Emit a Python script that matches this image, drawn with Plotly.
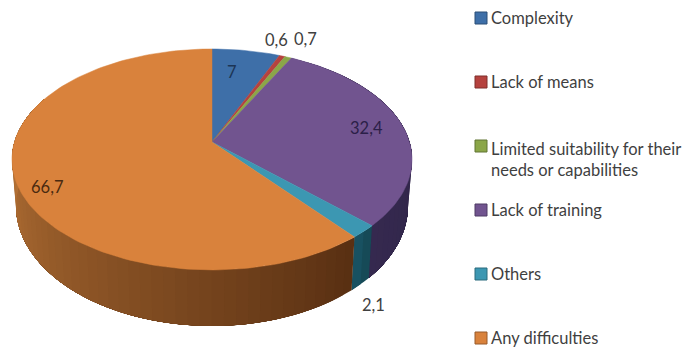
import math
import plotly.graph_objects as go

# ---- data ----
categories = ["Complexity", "Lack of means", "Limited suitability for their<br>needs or capabilities",
              "Lack of training", "Others", "Any difficulties"]
values = [7, 0.6, 0.7, 32.4, 2.1, 66.7]

# ---- styles ----
top_colors = ["#3E6FA8", "#B5423E", "#8BA648", "#71548F", "#3C97B2", "#D9823C"]
wall_left = {3: "#35294F", 4: "#1A5566", 5: "#C67E3C"}
wall_right = {3: "#2A2140", 4: "#144652", 5: "#582F12"}
label_pos = [(232, 72), (276, 40), (305, 39), (366, 128), (373, 305), (47, 187)]
label_col = ["#1C3555", "#404040", "#404040", "#2B2048", "#404040", "#4A2A10"]
FONT = "Lato"
TXT = "#3F3F3F"

# ---- perspective model of the disc (pixel space) ----
CX, TOP_Y, K = 212, 142, 0.158
A1, B1 = 197.5, 107.7
BOT_Y, A2, B2 = 187, 193.5, 117


def top_pt(deg):
    t = math.radians(deg)
    u, v = math.sin(t), -math.cos(t)
    w = 1 - K * v
    return CX + A1 * u / w, TOP_Y + B1 * v / w


def bot_pt(deg):
    t = math.radians(deg)
    u, v = math.sin(t), -math.cos(t)
    w = 1 - K * v
    return CX + A2 * u / w, BOT_Y + B2 * v / w


def hex_mix(a, b, f):
    ca = [int(a[i:i + 2], 16) for i in (1, 3, 5)]
    cb = [int(b[i:i + 2], 16) for i in (1, 3, 5)]
    return "#%02x%02x%02x" % tuple(round(x + (y - x) * f) for x, y in zip(ca, cb))


total = sum(values)
edges = [0.0]
for val in values:
    edges.append(edges[-1] + val / total * 360)

fig = go.Figure()


def poly(xs, ys, color, lw=0.0):
    fig.add_trace(go.Scatter(x=xs, y=ys, mode="lines", fill="toself", fillcolor=color,
                             line=dict(color=color, width=lw), hoverinfo="skip", showlegend=False))


# side walls, painted first; each strip runs under the next one so no seams show
for i in range(3, 6):
    start, stop = edges[i], min(edges[i + 1], 295)
    n = max(2, int((stop - start) / 3))
    for j in range(n):
        a0 = start + (stop - start) * j / n
        a1 = stop
        span = [a0 + (a1 - a0) * s / 60 for s in range(61)]
        tp = [top_pt(a) for a in span]
        bp = [bot_pt(a) for a in reversed(span)]
        # the light end of the wall is the far (left) one
        f = 1 - (j + 0.5) / n
        c = hex_mix(wall_left[i], wall_right[i], f)
        poly([p[0] for p in tp + bp], [p[1] for p in tp + bp], c, 0)

# top faces
for i, col in enumerate(top_colors):
    n = max(4, int((edges[i + 1] - edges[i]) / 1.5))
    arc = [top_pt(edges[i] + (edges[i + 1] - edges[i]) * s / n) for s in range(n + 1)]
    xs = [CX] + [p[0] for p in arc] + [CX]
    ys = [TOP_Y] + [p[1] for p in arc] + [TOP_Y]
    poly(xs, ys, col, 0.5)

# data labels
annotations = []
for val, (lx, ly), c in zip(values, label_pos, label_col):
    annotations.append(dict(x=lx, y=ly, xref="x", yref="y", showarrow=False,
                            text=f"{val:g}".replace(".", ","), font=dict(family=FONT, size=16.5, color=c)))

# legend
LEG_X, LEG_Y, LEG_STEP, SW = 475, 18, 64, 12
shapes = []
for i, (name, col) in enumerate(zip(categories, top_colors)):
    y = LEG_Y + i * LEG_STEP
    shapes.append(dict(type="rect", xref="x", yref="y", x0=LEG_X, x1=LEG_X + SW, y0=y - SW / 2, y1=y + SW / 2,
                       fillcolor=col, line=dict(color=hex_mix(col, "#000000", 0.3), width=1)))
    multi = "<br>" in name
    annotations.append(dict(x=LEG_X + 14, y=y + (13 if multi else 0), xref="x", yref="y", showarrow=False,
                            xanchor="left", align="left", text=name,
                            font=dict(family=FONT, size=16.5, color=TXT)))

fig.update_layout(
    width=683, height=349, margin=dict(l=0, r=0, t=0, b=0),
    paper_bgcolor="white", plot_bgcolor="white", showlegend=False,
    xaxis=dict(range=[0, 683], visible=False, fixedrange=True),
    yaxis=dict(range=[349, 0], visible=False, fixedrange=True),
    annotations=annotations, shapes=shapes,
)
fig.write_html("out.html", config={"displayModeBar": False},
               post_script="document.body.style.margin='0';document.documentElement.style.overflow='hidden';")
